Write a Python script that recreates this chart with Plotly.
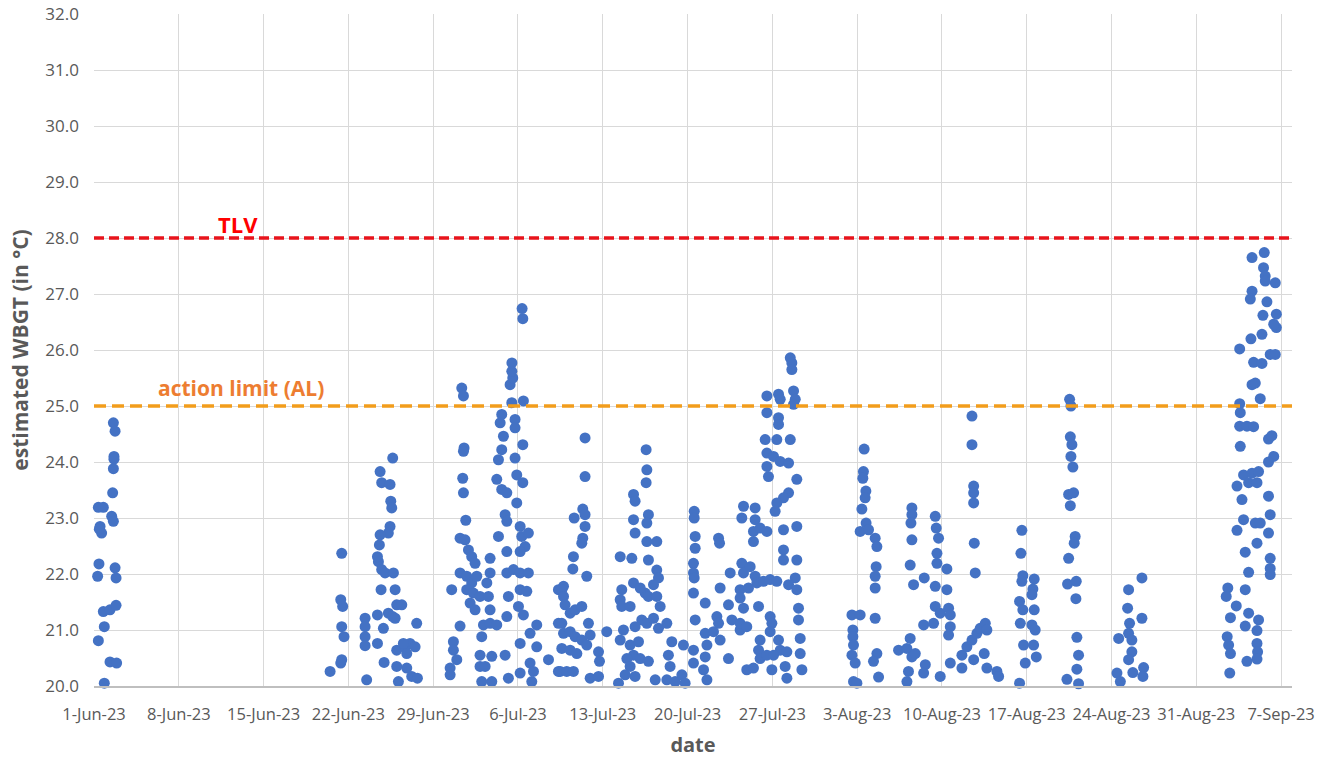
import pandas as pd
import plotly.graph_objects as go

START = pd.Timestamp("2023-06-01")

# (days since 1-Jun-23, estimated WBGT in °C)
early_june = [
    (0.30, 21.96), (0.36, 20.81), (0.41, 22.18), (0.50, 22.85), (0.63, 22.73), (0.36, 23.19),
    (0.77, 23.19), (0.44, 22.80), (0.85, 20.05), (0.85, 21.06), (0.77, 21.33), (1.32, 21.36),
    (1.82, 21.44), (1.32, 20.43), (1.87, 20.41), (1.60, 24.70), (1.74, 24.55), (1.65, 24.10),
    (1.65, 24.05), (1.60, 23.88), (1.54, 23.45), (1.46, 23.03), (1.60, 22.94), (1.74, 22.11),
    (1.82, 21.93),
]

late_june = [
    (19.49, 20.26), (20.45, 20.47), (20.45, 22.37), (20.37, 21.54), (20.53, 21.42), (20.45, 21.06),
    (20.64, 20.88), (20.37, 20.41), (22.51, 20.11), (22.38, 21.21), (22.38, 21.06), (22.38, 20.88),
    (22.38, 20.72), (23.40, 20.76), (23.40, 21.27), (23.89, 21.03), (23.95, 20.42), (23.62, 23.83),
    (23.75, 23.63), (24.44, 23.60), (24.66, 24.07), (24.50, 23.30), (24.58, 23.18), (24.44, 22.85),
    (24.30, 22.73), (23.62, 22.70), (23.56, 22.52), (23.48, 22.22), (23.40, 22.31), (23.75, 22.08),
    (24.03, 22.02), (24.72, 22.02), (23.70, 21.72), (24.86, 21.72), (24.30, 21.30), (24.66, 21.24),
    (24.99, 21.45), (25.41, 21.45), (24.86, 21.21), (24.99, 20.64), (25.68, 20.70), (26.09, 20.76),
    (26.51, 20.70), (25.82, 20.58), (26.64, 21.12), (24.99, 20.35), (25.13, 20.08), (25.82, 20.32),
    (26.23, 20.17), (26.70, 20.14), (25.54, 20.76),
]

early_july = [
    (29.53, 21.72), (30.22, 21.07), (29.67, 20.79), (29.67, 20.64), (29.95, 20.47), (29.40, 20.32),
    (29.40, 20.20), (30.36, 25.32), (30.50, 25.18), (30.55, 24.25), (30.50, 24.19), (30.44, 23.71),
    (30.50, 23.45), (30.69, 22.96), (30.22, 22.64), (30.63, 22.61), (30.91, 22.43), (31.18, 22.31),
    (31.46, 22.19), (30.22, 22.02), (30.77, 21.96), (31.18, 21.84), (31.60, 21.96), (30.77, 21.72),
    (31.32, 21.66), (31.05, 21.48), (31.46, 21.36), (31.87, 21.60), (32.43, 21.84), (32.70, 22.02),
    (32.56, 21.60), (32.70, 21.36), (32.15, 21.09), (32.70, 21.12), (33.25, 21.09), (32.01, 20.88),
    (31.87, 20.55), (32.84, 20.53), (31.87, 20.35), (32.29, 20.35), (32.01, 20.08), (32.84, 20.08),
    (32.70, 22.28), (33.39, 22.67), (34.08, 22.40), (33.94, 23.06), (34.08, 22.94), (33.25, 23.69),
    (33.66, 23.51), (34.08, 23.45), (33.39, 24.04), (33.66, 24.22), (33.80, 24.46), (33.53, 24.70),
    (33.66, 24.85), (34.49, 25.06), (34.35, 25.38), (34.57, 25.50), (34.49, 25.62), (34.50, 25.77),
    (35.34, 26.74), (35.40, 26.56), (34.76, 24.76), (34.76, 24.61), (34.76, 24.07), (34.90, 23.77),
    (34.90, 23.27), (35.40, 23.63), (35.40, 24.31), (35.45, 25.09), (34.08, 22.02), (34.63, 22.08),
    (35.18, 22.02), (35.86, 22.02), (35.18, 22.85), (35.31, 22.67), (35.59, 22.49), (35.18, 22.40),
    (35.86, 22.73), (34.21, 21.60), (35.18, 21.72), (35.73, 21.69), (35.04, 21.42), (35.45, 21.27),
    (34.08, 21.24), (33.94, 20.55), (34.21, 20.14), (35.18, 20.76), (35.18, 20.23), (36.00, 20.94),
    (36.55, 21.09), (36.55, 20.70), (36.00, 20.41), (36.28, 20.26), (36.14, 20.08), (37.52, 20.47),
    (38.34, 21.72), (38.34, 21.12), (38.34, 20.26),
]

mid_july = [
    (38.76, 21.78), (39.58, 22.31), (39.53, 22.09), (39.64, 23.00), (40.35, 23.16), (40.54, 23.06),
    (40.54, 22.85), (40.35, 22.64), (40.27, 22.55), (40.54, 23.74), (40.54, 24.43), (40.68, 21.96),
    (38.62, 21.72), (38.76, 21.60), (38.89, 21.45), (39.31, 21.30), (39.72, 21.36), (40.27, 21.42),
    (38.62, 21.12), (38.76, 20.94), (39.31, 20.97), (39.72, 20.88), (40.27, 20.82), (40.68, 20.73),
    (38.62, 20.67), (39.31, 20.64), (39.86, 20.58), (40.82, 21.12), (40.96, 20.91), (38.48, 20.26),
    (39.03, 20.26), (39.58, 20.26), (41.65, 20.61), (41.73, 20.44), (40.96, 20.14), (41.65, 20.17),
    (42.33, 20.97),
    (43.44, 22.31), (44.40, 22.28), (44.54, 23.42), (44.67, 23.30), (45.58, 24.22), (45.64, 23.86),
    (45.58, 23.63), (45.77, 23.06), (45.64, 22.91), (44.54, 22.97), (44.67, 22.73), (45.64, 22.58),
    (46.46, 22.58), (45.77, 22.25), (46.46, 22.07), (46.60, 21.93), (46.19, 21.81), (45.50, 21.66),
    (44.54, 21.84), (43.57, 21.72), (43.44, 21.54), (43.57, 21.42), (44.26, 21.42), (46.74, 21.42),
    (45.09, 21.75), (45.77, 21.60), (46.46, 21.60), (45.22, 21.18), (45.64, 21.12), (46.19, 21.21),
    (47.29, 21.12), (46.60, 21.03), (44.67, 21.06), (43.71, 21.00), (43.44, 20.82), (44.26, 20.73),
    (44.95, 20.79), (44.54, 20.55), (43.99, 20.49), (45.09, 20.49), (45.77, 20.44), (44.26, 20.35),
    (44.67, 20.17), (43.85, 20.20), (43.30, 20.05), (46.33, 20.11), (47.70, 20.79), (47.42, 20.55),
    (47.56, 20.35), (47.29, 20.11), (47.98, 20.08), (48.53, 20.20), (48.80, 20.05), (48.66, 20.73),
    (49.49, 20.64), (49.49, 20.41),
]

late_july = [
    (49.55, 23.12), (49.55, 23.00), (49.63, 22.67), (49.63, 22.46), (49.49, 22.19), (49.49, 22.02),
    (49.55, 21.93), (49.49, 21.66), (49.63, 21.18), (50.46, 21.48), (50.46, 20.94), (50.60, 20.73),
    (50.46, 20.52), (50.32, 20.29), (50.60, 20.11), (51.56, 22.64), (51.64, 22.55), (51.69, 21.75),
    (51.42, 21.24), (51.56, 21.12), (51.14, 20.97), (51.69, 20.82), (52.38, 20.49), (52.52, 22.02),
    (52.38, 21.45), (52.66, 21.18), (53.34, 21.00), (53.62, 23.21), (53.48, 23.00), (54.58, 23.18),
    (54.58, 22.97), (54.44, 22.76), (54.44, 22.58), (54.99, 22.82), (55.55, 22.76), (53.48, 22.19),
    (53.62, 22.02), (54.17, 22.13), (54.58, 21.96), (54.72, 21.84), (55.27, 21.87), (55.82, 21.90),
    (56.37, 21.87), (53.34, 21.72), (54.03, 21.75), (53.34, 21.57), (53.62, 21.39), (54.86, 21.42),
    (53.34, 21.12), (53.89, 21.06), (54.99, 20.82), (54.86, 20.64), (54.99, 20.49), (55.55, 20.55),
    (53.89, 20.29), (54.44, 20.32), (55.96, 20.29), (55.82, 21.24), (55.96, 21.12), (55.82, 20.97),
    (56.51, 20.82), (56.65, 20.64), (57.20, 20.61), (57.06, 20.35), (57.20, 20.14), (56.10, 20.55),
    (55.55, 25.18), (55.55, 24.88), (56.51, 25.21), (56.65, 25.12), (57.75, 25.27), (57.89, 25.12),
    (57.75, 25.03), (57.48, 25.86), (57.61, 25.77), (57.61, 25.65), (56.51, 24.79), (56.51, 24.67),
    (55.41, 24.40), (56.37, 24.40), (57.48, 24.40), (55.55, 24.16), (55.55, 23.92), (56.10, 24.10),
    (56.65, 24.01), (57.34, 23.98), (55.68, 23.74), (58.02, 23.69), (57.34, 23.45), (56.92, 23.36),
    (56.37, 23.27), (56.23, 23.12), (56.92, 22.79), (58.02, 22.85), (56.92, 22.43), (56.92, 22.25),
    (58.02, 22.25), (57.89, 21.93), (57.34, 21.81), (58.02, 21.72), (58.16, 21.39), (58.16, 21.18),
    (58.30, 20.85), (58.30, 20.58), (58.44, 20.29),
]

early_august = [
    (62.57, 21.27), (63.25, 21.27), (62.65, 21.00), (62.65, 20.88), (62.70, 20.73), (62.57, 20.55),
    (62.84, 20.41), (62.70, 20.08), (62.98, 20.05), (64.49, 21.21), (64.63, 20.58), (64.35, 20.44),
    (64.77, 20.16), (63.58, 24.23), (63.52, 23.83), (63.47, 23.71), (63.72, 23.48), (63.66, 23.36),
    (63.39, 23.16), (63.74, 22.91), (63.25, 22.76), (63.94, 22.79), (64.49, 22.64), (64.63, 22.49),
    (64.57, 22.13), (64.49, 21.96), (64.49, 21.75),
    (66.42, 20.64), (67.11, 20.67), (67.38, 20.85), (67.52, 20.52), (67.24, 20.26), (67.11, 20.08),
    (67.80, 20.58), (68.63, 20.38), (68.49, 20.23), (67.52, 23.18), (67.52, 23.06), (67.44, 22.91),
    (67.52, 22.61), (67.38, 22.16), (67.66, 21.81), (68.54, 21.93), (69.45, 23.03), (69.53, 22.82),
    (69.72, 22.64), (69.59, 22.37), (69.59, 22.19), (70.41, 22.09), (69.45, 21.78), (70.41, 21.72),
    (69.45, 21.42), (69.86, 21.30), (70.55, 21.39), (70.69, 21.27), (70.69, 21.06), (70.55, 20.91),
    (68.49, 21.09), (69.31, 21.12), (69.86, 20.17), (70.69, 20.41),
    (72.48, 24.82), (72.48, 24.31), (72.62, 23.57), (72.62, 23.45), (72.62, 23.27), (72.67, 22.55),
    (72.75, 22.02), (71.65, 20.55), (71.65, 20.32), (72.06, 20.70), (72.48, 20.82), (72.89, 20.94),
    (73.16, 21.03), (73.58, 21.12), (73.71, 21.00), (72.62, 20.47), (73.49, 20.58), (73.71, 20.32),
    (74.54, 20.26), (74.68, 20.17),
]

late_august = [
    (76.60, 22.78), (76.52, 22.37), (76.68, 21.97), (76.60, 21.87), (77.62, 21.91), (77.51, 21.73),
    (77.43, 21.63), (76.41, 21.51), (76.68, 21.36), (77.62, 21.36), (76.47, 21.12), (77.43, 21.09),
    (77.70, 21.00), (76.74, 20.73), (77.57, 20.73), (77.79, 20.52), (76.88, 20.41), (76.41, 20.05),
    (80.54, 25.12), (80.65, 25.00), (80.60, 24.45), (80.73, 24.31), (80.65, 24.10), (80.81, 23.91),
    (80.46, 23.42), (80.87, 23.45), (80.60, 23.22), (81.00, 22.67), (80.92, 22.55), (80.46, 22.28),
    (80.37, 21.82), (81.09, 21.87), (81.06, 21.56), (81.14, 20.87), (81.28, 20.55), (81.14, 20.30),
    (80.32, 20.12), (81.28, 20.04),
    (86.51, 21.93), (85.41, 21.72), (85.33, 21.39), (85.49, 21.12), (86.51, 21.21), (84.59, 20.85),
    (85.41, 20.94), (85.68, 20.82), (85.68, 20.61), (85.41, 20.47), (86.65, 20.33), (86.59, 20.17),
    (84.45, 20.23), (84.73, 20.08), (85.76, 20.24),
]

early_september = [
    (95.60, 27.65), (96.61, 27.74), (96.55, 27.47), (96.69, 27.32), (97.52, 27.20), (96.69, 27.23),
    (95.60, 27.05), (95.46, 26.91), (96.83, 26.86), (96.50, 26.62), (97.61, 26.64), (97.61, 26.40),
    (97.39, 26.46), (96.42, 26.28), (95.51, 26.20), (94.58, 26.02), (95.73, 25.78), (96.42, 25.76),
    (97.10, 25.92), (97.52, 25.92), (95.60, 25.38), (95.87, 25.41), (96.28, 25.13), (94.58, 25.04),
    (94.63, 24.88), (94.58, 24.64), (95.18, 24.64), (95.73, 24.63), (94.63, 24.28), (96.96, 24.41),
    (97.24, 24.47), (97.39, 24.10), (96.96, 24.00), (94.90, 23.77), (95.60, 23.80), (96.14, 23.83),
    (94.36, 23.57), (95.32, 23.63), (96.01, 23.63), (94.77, 23.33), (96.96, 23.39), (97.10, 23.06),
    (94.90, 22.97), (95.87, 22.91), (96.28, 22.91), (94.36, 22.78), (96.96, 22.73), (96.01, 22.55),
    (95.04, 22.39), (97.10, 22.28), (97.10, 22.10), (97.10, 21.99), (95.32, 22.03), (93.60, 21.75),
    (93.47, 21.60), (95.04, 21.72), (94.30, 21.43), (93.82, 21.22), (95.32, 21.30), (96.14, 21.18),
    (95.04, 21.07), (96.01, 20.99), (93.55, 20.88), (93.67, 20.73), (93.82, 20.58), (96.01, 20.76),
    (96.06, 20.61), (96.01, 20.48), (95.18, 20.44), (93.76, 20.23),
]

TLV = 28.0
ACTION_LIMIT = 25.0

tick_labels = ["1-Jun-23", "8-Jun-23", "15-Jun-23", "22-Jun-23", "29-Jun-23", "6-Jul-23",
               "13-Jul-23", "20-Jul-23", "27-Jul-23", "3-Aug-23", "10-Aug-23", "17-Aug-23",
               "24-Aug-23", "31-Aug-23", "7-Sep-23"]
tick_dates = pd.date_range(START, periods=len(tick_labels), freq="7D")

periods = [early_june, late_june, early_july, mid_july, late_july,
           early_august, late_august, early_september]
days = [d for p in periods for d, _ in p]
wbgt = [v for p in periods for _, v in p]
times = START + pd.to_timedelta(days, unit="D")

GRAY = "#595959"
FONT = "Open Sans"

fig = go.Figure()
fig.add_trace(go.Scatter(
    x=times, y=wbgt, mode="markers",
    marker=dict(color="#4472C4", size=11, line=dict(width=0)),
    cliponaxis=False, showlegend=False,
))

fig.add_shape(type="line", xref="paper", x0=0, x1=1, yref="y", y0=TLV, y1=TLV,
              line=dict(color="#E8141C", width=3.5, dash="10px,5px"))
fig.add_shape(type="line", xref="paper", x0=0, x1=1, yref="y", y0=ACTION_LIMIT, y1=ACTION_LIMIT,
              line=dict(color="#F29D1C", width=3.5, dash="12px,6px"))

fig.add_annotation(x=START + pd.Timedelta(days=11.9), y=TLV + 0.25, text="<b>TLV</b>",
                   showarrow=False, font=dict(family=FONT, size=22, color="#FF0000"))
fig.add_annotation(x=START + pd.Timedelta(days=12.1), y=ACTION_LIMIT + 0.33, text="<b>action limit (AL)</b>",
                   showarrow=False, font=dict(family=FONT, size=21, color="#ED7D31"))

fig.update_layout(
    width=1336, height=761,
    margin=dict(l=94, r=44, t=14, b=75),
    paper_bgcolor="white", plot_bgcolor="white",
    font=dict(family=FONT, color=GRAY),
)
fig.update_xaxes(
    range=[START, START + pd.Timedelta(days=98.9)],
    tickvals=tick_dates, ticktext=tick_labels,
    tickfont=dict(size=16.5, color=GRAY), ticklabelstandoff=12,
    showgrid=True, gridcolor="#D9D9D9", gridwidth=1,
    showline=True, linecolor="#BFBFBF", linewidth=1.5,
    ticks="", zeroline=False, automargin=False,
    title=dict(text="<b>date</b>", font=dict(size=20, color=GRAY), standoff=14),
)
fig.update_yaxes(
    range=[20, 32], dtick=1, tick0=20, tickformat=".1f",
    tickfont=dict(size=17, color=GRAY), ticklabelstandoff=14,
    showgrid=True, gridcolor="#D9D9D9", gridwidth=1,
    showline=False, ticks="", zeroline=False, automargin=False,
    title=dict(text="<b>estimated WBGT (in °C)</b>", font=dict(size=21, color=GRAY), standoff=11),
)

fig.write_html("out.html", config={"displayModeBar": False},
               post_script="document.body.style.margin = '0';")
